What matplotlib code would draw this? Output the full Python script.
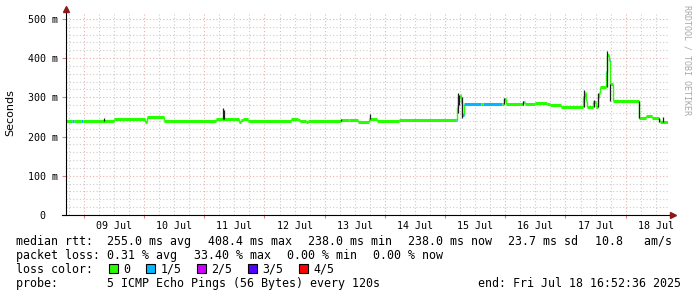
import matplotlib
matplotlib.use("Agg")
import matplotlib.pyplot as plt
import matplotlib.dates as mdates
from matplotlib.patches import Rectangle
from matplotlib.ticker import MultipleLocator, FuncFormatter
import pandas as pd

# median rtt (ms), step values, and lost pings out of 5 for each step
step_times = [
    "2025-07-08 16:52", "2025-07-08 19:20", "2025-07-08 20:00", "2025-07-08 22:50",
    "2025-07-08 23:30", "2025-07-09 11:50", "2025-07-10 00:30", "2025-07-10 01:00",
    "2025-07-10 07:50", "2025-07-11 04:40", "2025-07-11 13:50", "2025-07-11 14:40",
    "2025-07-11 15:30", "2025-07-11 17:20", "2025-07-12 10:40", "2025-07-12 13:20",
    "2025-07-12 14:00", "2025-07-12 16:40", "2025-07-12 17:20", "2025-07-13 06:40",
    "2025-07-13 09:50", "2025-07-13 13:20", "2025-07-13 17:50", "2025-07-13 21:00",
    "2025-07-14 05:50", "2025-07-15 04:20", "2025-07-15 04:50", "2025-07-15 05:20",
    "2025-07-15 05:50", "2025-07-15 06:20", "2025-07-15 06:50", "2025-07-15 07:30",
    "2025-07-15 14:30", "2025-07-15 15:10", "2025-07-15 22:40", "2025-07-15 23:20",
    "2025-07-16 00:10", "2025-07-16 07:00", "2025-07-16 07:30", "2025-07-16 08:00",
    "2025-07-16 11:50", "2025-07-16 16:40", "2025-07-16 17:50", "2025-07-16 22:10",
    "2025-07-17 07:10", "2025-07-17 07:40", "2025-07-17 08:10", "2025-07-17 08:40",
    "2025-07-17 11:10", "2025-07-17 11:40", "2025-07-17 12:10", "2025-07-17 13:00",
    "2025-07-17 13:25", "2025-07-17 13:50", "2025-07-17 16:20", "2025-07-17 16:45",
    "2025-07-17 17:10", "2025-07-17 17:40", "2025-07-17 19:00", "2025-07-18 05:25",
    "2025-07-18 08:10", "2025-07-18 10:35", "2025-07-18 13:10", "2025-07-18 13:50",
    "2025-07-18 16:50",
]
median_ms = [
    240, 240, 240, 240,
    240, 245, 238, 250,
    240, 244, 238, 243,
    244, 240, 244, 241,
    240, 238, 240, 242,
    243, 237, 245, 239,
    241, 241, 275, 300,
    306, 288, 255, 283,
    283, 283, 283, 296,
    283, 289, 289, 282,
    285, 284, 281, 276,
    300, 311, 290, 276,
    289, 289, 276, 300,
    311, 327, 365, 408,
    395, 334, 290, 247,
    252, 248, 241, 238,
    238,
]
lost = [
    0, 1, 0, 1,
    0, 0, 0, 0,
    0, 0, 0, 0,
    0, 0, 0, 0,
    0, 0, 0, 0,
    0, 0, 0, 0,
    0, 1, 0, 0,
    0, 0, 1, 1,
    0, 1, 0, 0,
    0, 1, 0, 0,
    0, 0, 0, 0,
    0, 0, 0, 0,
    1, 0, 0, 0,
    0, 0, 1, 0,
    1, 0, 0, 0,
    0, 0, 0, 0,
    0,
]

# smoke (spread of the pings) where it is visible
smoke_times = [
    "2025-07-09 07:50", "2025-07-11 07:20", "2025-07-11 07:50", "2025-07-13 06:40",
    "2025-07-13 18:00", "2025-07-15 05:10", "2025-07-15 05:40", "2025-07-15 06:40",
    "2025-07-15 23:20", "2025-07-16 07:00", "2025-07-17 07:30", "2025-07-17 11:20",
    "2025-07-17 12:50", "2025-07-17 16:40", "2025-07-17 17:50", "2025-07-18 05:25",
    "2025-07-18 13:10", "2025-07-18 15:00",
]
smoke_lo = [240, 244, 244, 240, 244, 260, 280, 248, 283, 281, 276, 276, 276, 327, 290, 247, 238, 238]
smoke_hi = [248, 273, 268, 246, 257, 312, 306, 300, 298, 290, 319, 292, 311, 417, 334, 290, 248, 250]

x_start = "2025-07-08 16:52:36"
x_end = "2025-07-18 16:52:36"
y_top = 515

loss_colors = ["#26ff00", "#00b8ff", "#cc00ff", "#5500ff", "#ff0000"]
loss_labels = ["0", "1/5", "2/5", "3/5", "4/5"]

rtt_items = ["median rtt:  255.0 ms avg", "408.4 ms max", "238.0 ms min",
             "238.0 ms now", "23.7 ms sd", "10.8   am/s"]
loss_items = ["packet loss: 0.31 % avg", "33.40 % max", "0.00 % min", "0.00 % now"]
probe_text = "probe:       5 ICMP Echo Pings (56 Bytes) every 120s"
end_text = "end: Fri Jul 18 16:52:36 2025"

W, H = 697, 297
MONO = "DejaVu Sans Mono"
FS = 8.4
CW = 0.602 * FS * 100 / 72  # char width in px
GAP = 16

t = pd.to_datetime(step_times)
st = pd.to_datetime(smoke_times)

fig = plt.figure(figsize=(W / 100, H / 100), dpi=100)
fig.patch.set_facecolor("white")
ax = fig.add_axes([66 / W, 1 - 215 / H, 602 / W, 202 / H])

# median: thick flat parts coloured by loss, thin joins between them
ax.vlines(t[1:], median_ms[:-1], median_ms[1:], color=loss_colors[0], lw=1.0, zorder=3)
ax.hlines(median_ms[:-1], t[:-1], t[1:], color=[loss_colors[k] for k in lost[:-1]],
          lw=2.2, zorder=4)
ax.vlines(st, smoke_lo, smoke_hi, color="#1e1e1e", lw=0.9, zorder=5)

ax.set_xlim(pd.Timestamp(x_start), pd.Timestamp(x_end))
ax.set_ylim(0, y_top)

ax.xaxis.set_major_locator(mdates.DayLocator())
ax.xaxis.set_minor_locator(mdates.HourLocator(byhour=[6, 12, 18]))
ax.xaxis.set_major_formatter(FuncFormatter(lambda v, p: ""))
ax.xaxis.set_minor_formatter(FuncFormatter(
    lambda v, p: mdates.num2date(v).strftime("%d %b") if mdates.num2date(v).hour == 12 else ""))
ax.yaxis.set_major_locator(MultipleLocator(100))
ax.yaxis.set_minor_locator(MultipleLocator(20))
ax.yaxis.set_major_formatter(FuncFormatter(lambda v, p: "0  " if v == 0 else f"{int(v)} m"))

ax.grid(which="minor", color="#cccccc", ls=(0, (1, 2)), lw=0.8)
ax.grid(which="major", color="#e8b0b0", ls=(0, (1, 2)), lw=0.8)
ax.set_axisbelow(True)

for s in ax.spines.values():
    s.set_visible(False)

ax.tick_params(axis="x", which="major", length=2, color="#e08080", width=0.8)
ax.tick_params(axis="x", which="minor", length=0, pad=4.5)
ax.tick_params(axis="y", which="major", length=3, color="#e08080", width=0.8, pad=3)
ax.tick_params(axis="y", which="minor", length=0)
for lab in ax.get_xticklabels(minor=True) + ax.get_yticklabels():
    lab.set_fontfamily(MONO)
    lab.set_fontsize(7.2)

# axes with arrows
ax.plot([-4 / 602, 1 + 5 / 602], [0, 0], transform=ax.transAxes, clip_on=False,
        color="black", lw=0.8, zorder=6)
ax.plot([0, 0], [0, 1 + 4 / 202], transform=ax.transAxes, clip_on=False,
        color="black", lw=0.8, zorder=6)
ax.plot([1 + 5 / 602], [0], marker=">", ms=4, color="#8b1a1a", transform=ax.transAxes,
        clip_on=False, zorder=7)
ax.plot([0], [1 + 4 / 202], marker="^", ms=4, color="#8b1a1a", transform=ax.transAxes,
        clip_on=False, zorder=7)

fig.text(10 / W, 1 - 113 / H, "Seconds", rotation=90, ha="center", va="center",
         fontsize=8, family="DejaVu Sans")
fig.text(687 / W, 1 - 60 / H, "RRDTOOL / TOBI OETIKER", rotation=270, ha="center",
         va="center", fontsize=6, family=MONO, color="#a8a8a8")


def put(x, y, s, **kw):
    fig.text(x / W, 1 - y / H, s, family=MONO, fontsize=FS, va="baseline", **kw)


x = 16
for item in rtt_items:
    put(x, 245, item)
    x += len(item) * CW + GAP

x = 16
for item in loss_items:
    put(x, 259, item)
    x += len(item) * CW + GAP

put(16, 273, "loss color:")
x = 16 + len("loss color:") * CW + GAP
for col, lab in zip(loss_colors, loss_labels):
    fig.patches.append(Rectangle((x / W, 1 - 273 / H), 9 / W, 9 / H, facecolor=col,
                                 edgecolor="black", lw=0.8, transform=fig.transFigure))
    put(x + 14, 273, lab)
    x += 14 + len(lab) * CW + GAP

put(16, 287, probe_text)
put(681, 287, end_text, ha="right")

fig.savefig("out.png", dpi=100)
